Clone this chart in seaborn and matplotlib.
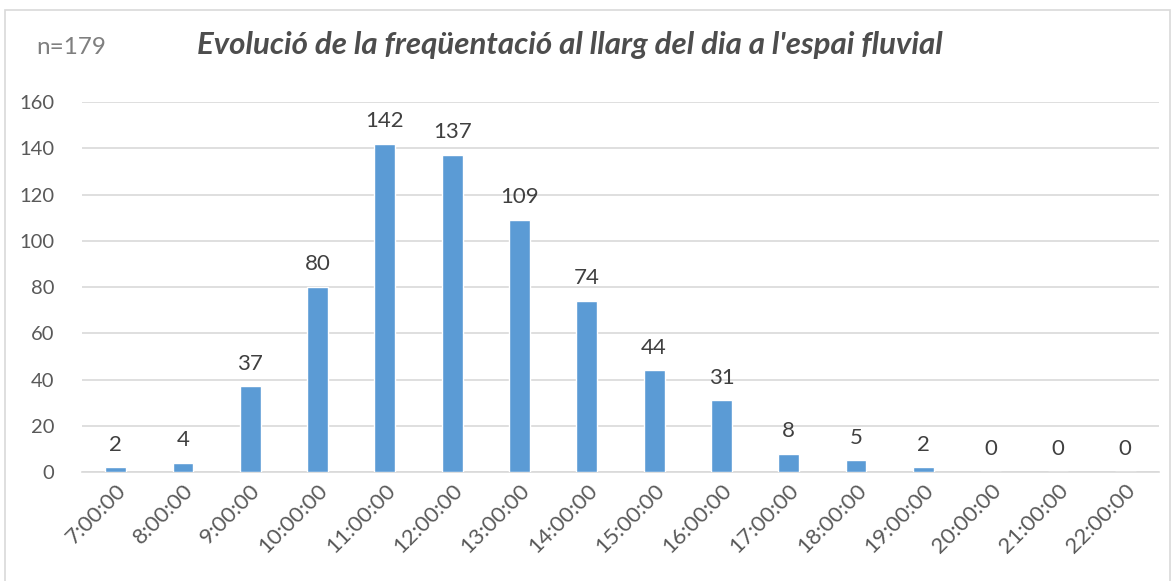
import matplotlib
matplotlib.use("Agg")
import matplotlib.pyplot as plt
import seaborn as sns
import pandas as pd
from matplotlib.patches import Rectangle

hours = ["7:00:00", "8:00:00", "9:00:00", "10:00:00", "11:00:00", "12:00:00",
         "13:00:00", "14:00:00", "15:00:00", "16:00:00", "17:00:00", "18:00:00",
         "19:00:00", "20:00:00", "21:00:00", "22:00:00"]
counts = [2, 4, 37, 80, 142, 137, 109, 74, 44, 31, 8, 5, 2, 0, 0, 0]
yticks = [0, 20, 40, 60, 80, 100, 120, 140, 160]
title = "Evolució de la freqüentació al llarg del dia a l'espai fluvial"
note = "n=179"

sns.set_theme(style="white")
plt.rcParams['font.family'] = ['Lato', 'DejaVu Sans']

df = pd.DataFrame({"hora": hours, "n": counts})

fig = plt.figure(figsize=(11.76, 5.81), dpi=100)
ax = fig.add_axes([0.0697, 0.1876, 0.9158, 0.6368])
sns.barplot(data=df, x="hora", y="n", color="#5B9BD5", saturation=1,
            width=0.31, ax=ax, zorder=3)

ax.set_ylim(0, 160)
ax.set_xlim(-0.5, len(hours) - 0.5)
ax.set_yticks(yticks)
ax.yaxis.grid(True, color="#D9D9D9", linewidth=1.2, zorder=0)
ax.xaxis.grid(False)
for s in ["top", "right", "left"]:
    ax.spines[s].set_visible(False)
ax.spines["bottom"].set_color("#D9D9D9")
ax.spines["bottom"].set_linewidth(1.2)
ax.set_xlabel("")
ax.set_ylabel("")
ax.tick_params(axis="y", length=0, labelsize=14.5, labelcolor="#595959", pad=20)
ax.tick_params(axis="x", length=0, labelsize=16, labelcolor="#595959", pad=6)
plt.setp(ax.get_xticklabels(), rotation=45, ha="right", rotation_mode="anchor")

for i, v in enumerate(counts):
    ax.text(i, v + 5.5, str(v), ha="center", va="bottom", fontsize=16, color="#404040")

fig.text(0.485, 0.922, title, ha="center", va="center", fontsize=22.5,
         fontweight="bold", fontstyle="italic", color="#4D4D4D")
fig.text(0.031, 0.918, note, ha="left", va="center", fontsize=17.5, color="#7F7F7F")

fig.add_artist(Rectangle((0.004, -0.01), 0.991, 0.993, transform=fig.transFigure,
                         fill=False, edgecolor="#D9D9D9", linewidth=1.2))

fig.savefig("out.png", dpi=100)
